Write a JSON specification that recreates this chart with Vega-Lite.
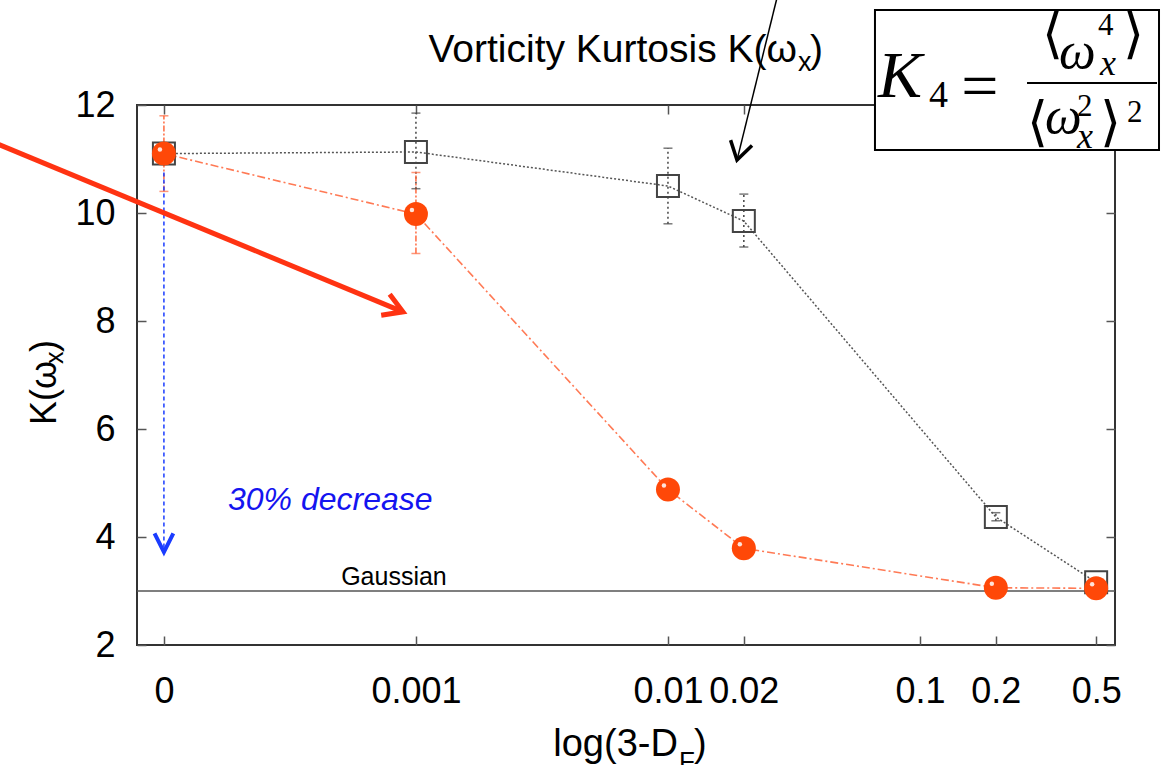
{
  "$schema": "https://vega.github.io/schema/vega-lite/v6.json",
  "width": 978,
  "height": 540,
  "autosize": {"type": "none"},
  "padding": {"left": 137, "top": 105, "right": 49, "bottom": 120},
  "background": "white",
  "datasets": {
    "kurtosis": [
      {"DF": 0.0001, "K": 11.1, "lo": 10.4, "hi": 11.8, "series": "circles"},
      {"DF": 0.001, "K": 9.98, "lo": 9.25, "hi": 10.75, "series": "circles"},
      {"DF": 0.01, "K": 4.88, "lo": 4.74, "hi": 5.04, "series": "circles"},
      {"DF": 0.02, "K": 3.79, "lo": 3.72, "hi": 3.86, "series": "circles"},
      {"DF": 0.2, "K": 3.06, "lo": 3.0, "hi": 3.12, "series": "circles"},
      {"DF": 0.5, "K": 3.05, "lo": 3.0, "hi": 3.1, "series": "circles"},
      {"DF": 0.0001, "K": 11.1, "lo": 10.9, "hi": 11.3, "series": "squares"},
      {"DF": 0.001, "K": 11.13, "lo": 10.45, "hi": 11.85, "series": "squares"},
      {"DF": 0.01, "K": 10.5, "lo": 9.8, "hi": 11.2, "series": "squares"},
      {"DF": 0.02, "K": 9.85, "lo": 9.37, "hi": 10.35, "series": "squares"},
      {"DF": 0.2, "K": 4.37, "lo": 4.3, "hi": 4.45, "series": "squares"},
      {"DF": 0.5, "K": 3.16, "lo": 3.1, "hi": 3.22, "series": "squares"}
    ],
    "arrows": [
      {"name": "pointer", "x": 0.0000213, "y": 11.3, "x2": 0.000888, "y2": 8.17},
      {"name": "black", "x": 0.02706, "y": 13.98, "x2": 0.01879, "y2": 10.98},
      {"name": "decrease", "x": 0.0001, "y": 10.75, "x2": 0.0001, "y2": 3.72}
    ],
    "notes": [
      {"part": "gaussian", "t": "Gaussian", "x": 0.000818, "y": 3.111},
      {"part": "decrease", "t": "30% decrease", "x": 0.0001795, "y": 4.5},
      {"part": "xtitle", "t": "log(3-D", "x": 0.01095, "y": -0.0556},
      {"part": "xsub", "t": "F", "x": 0.01106, "y": -0.315},
      {"part": "xclose", "t": ")", "x": 0.01269, "y": -0.0556},
      {"part": "title", "t": "Vorticity Kurtosis K(ω", "x": 0.03251, "y": 12.796},
      {"part": "titlesub", "t": "x", "x": 0.0328, "y": 12.63},
      {"part": "titleclose", "t": ")", "x": 0.0366, "y": 12.796},
      {"part": "ytitle", "t": "K(ω", "x": 0.00003727, "y": 6.074},
      {"part": "ysub", "t": "x", "x": 0.00003973, "y": 7.204},
      {"part": "yclose", "t": ")", "x": 0.00003727, "y": 7.426}
    ],
    "formula": [
      {"part": "box", "x": 0.06628, "x2": 0.888, "y": 13.759, "y2": 11.167},
      {"part": "bar", "x": 0.26589, "x2": 0.872, "y": 12.407, "y2": 12.407},
      {"part": "bigital", "t": "K", "x": 0.06813, "y": 12.148},
      {"part": "omega", "t": "ω", "x": 0.35625, "y": 12.685},
      {"part": "omega", "t": "ω", "x": 0.31333, "y": 11.481},
      {"part": "eq", "t": "=", "x": 0.17298, "y": 12.315},
      {"part": "bracket", "t": "⟨", "x": 0.30479, "y": 12.99},
      {"part": "bracket", "t": "⟩", "x": 0.63914, "y": 12.99},
      {"part": "bracket", "t": "⟨", "x": 0.26589, "y": 11.352},
      {"part": "bracket", "t": "⟩", "x": 0.51795, "y": 11.352},
      {"part": "sub4", "t": "4", "x": 0.10856, "y": 11.963},
      {"part": "sup", "t": "4", "x": 0.50847, "y": 13.296},
      {"part": "sup", "t": "2", "x": 0.41976, "y": 11.8},
      {"part": "sup", "t": "2", "x": 0.66302, "y": 11.685},
      {"part": "subx", "t": "x", "x": 0.51795, "y": 12.556},
      {"part": "subx", "t": "x", "x": 0.41976, "y": 11.2}
    ]
  },
  "resolve": {"axis": {"x": "independent", "y": "independent"}},
  "layer": [
    {
      "data": {"values": [{"label": "Gaussian", "K": 3}]},
      "mark": {"type": "rule", "color": "#555", "strokeWidth": 1.5},
      "encoding": {"y": {"field": "K", "type": "quantitative", "scale": {"domain": [2, 12], "nice": false, "zero": false}, "axis": null}}
    },
    {
      "data": {"name": "kurtosis"},
      "transform": [{"filter": "datum.series === 'squares'"}],
      "mark": {"type": "rule", "color": "#444", "strokeWidth": 1.5, "strokeDash": [2, 3]},
      "encoding": {
        "x": {"field": "DF", "type": "quantitative", "scale": {"type": "log", "domain": [0.0000782, 0.594], "nice": false}, "axis": null},
        "y": {"field": "lo", "type": "quantitative", "scale": {"domain": [2, 12], "nice": false, "zero": false}, "axis": null},
        "y2": {"field": "hi"}
      }
    },
    {
      "data": {"name": "kurtosis"},
      "transform": [{"filter": "datum.series === 'circles'"}],
      "mark": {"type": "rule", "color": "#ff6a40", "strokeWidth": 1.5, "strokeDash": [6, 2, 2, 2]},
      "encoding": {
        "x": {"field": "DF", "type": "quantitative", "axis": null},
        "y": {"field": "lo", "type": "quantitative", "axis": null},
        "y2": {"field": "hi"}
      }
    },
    {
      "data": {"name": "kurtosis"},
      "transform": [{"filter": "datum.series === 'squares'"}, {"fold": ["lo", "hi"], "as": ["end", "val"]}],
      "mark": {"type": "point", "shape": "stroke", "size": 81, "color": "#444", "strokeWidth": 1.5},
      "encoding": {
        "x": {"field": "DF", "type": "quantitative", "axis": null},
        "y": {"field": "val", "type": "quantitative", "axis": null}
      }
    },
    {
      "data": {"name": "kurtosis"},
      "transform": [{"filter": "datum.series === 'circles'"}, {"fold": ["lo", "hi"], "as": ["end", "val"]}],
      "mark": {"type": "point", "shape": "stroke", "size": 81, "color": "#ff6a40", "strokeWidth": 1.5},
      "encoding": {
        "x": {"field": "DF", "type": "quantitative", "axis": null},
        "y": {"field": "val", "type": "quantitative", "axis": null}
      }
    },
    {
      "data": {"name": "kurtosis"},
      "transform": [{"filter": "datum.series === 'squares'"}],
      "mark": {"type": "line", "color": "#555", "strokeWidth": 1.5, "strokeDash": [2, 2]},
      "encoding": {
        "x": {"field": "DF", "type": "quantitative", "scale": {"type": "log", "domain": [0.0000782, 0.594], "nice": false},
          "axis": {"orient": "bottom", "values": [0.0001, 0.001, 0.01, 0.02, 0.1, 0.2, 0.5], "labelExpr": "datum.value < 0.0005 ? '0' : format(datum.value, '~g')", "labelPadding": 38, "title": null}},
        "y": {"field": "K", "type": "quantitative", "scale": {"domain": [2, 12], "nice": false, "zero": false},
          "axis": {"orient": "left", "values": [2, 4, 6, 8, 10, 12], "labelPadding": 31, "title": null}}
      }
    },
    {
      "data": {"name": "kurtosis"},
      "transform": [{"filter": "datum.series === 'circles'"}],
      "mark": {"type": "line", "color": "#ff7a55", "strokeWidth": 1.6, "strokeDash": [8, 3, 2, 3]},
      "encoding": {
        "x": {"field": "DF", "type": "quantitative",
          "axis": {"orient": "top", "values": [0.0001, 0.001, 0.01, 0.02, 0.1, 0.2, 0.5], "labels": false, "title": null}},
        "y": {"field": "K", "type": "quantitative",
          "axis": {"orient": "right", "values": [2, 4, 6, 8, 10, 12], "labels": false, "title": null}}
      }
    },
    {
      "data": {"name": "arrows"},
      "transform": [{"filter": "datum.name === 'decrease'"}],
      "mark": {"type": "rule", "color": "#1a3cff", "strokeWidth": 1.5, "strokeDash": [4, 3]},
      "encoding": {
        "x": {"field": "x", "type": "quantitative", "axis": null},
        "y": {"field": "y", "type": "quantitative", "axis": null},
        "x2": {"field": "x2"},
        "y2": {"field": "y2"}
      }
    },
    {
      "data": {"name": "arrows"},
      "transform": [{"filter": "datum.name === 'decrease'"}],
      "mark": {"type": "point", "shape": "M-1,-0.5L0,0L-1,0.5", "size": 1413, "angle": 90, "filled": false, "color": "#1a3cff", "strokeWidth": 4, "opacity": 1},
      "encoding": {
        "x": {"field": "x2", "type": "quantitative", "axis": null},
        "y": {"field": "y2", "type": "quantitative", "axis": null}
      }
    },
    {
      "data": {"name": "kurtosis"},
      "transform": [{"filter": "datum.series === 'squares'"}],
      "mark": {"type": "point", "shape": "square", "size": 484, "filled": false, "color": "#444", "strokeWidth": 2, "opacity": 1},
      "encoding": {
        "x": {"field": "DF", "type": "quantitative", "axis": null},
        "y": {"field": "K", "type": "quantitative", "axis": null}
      }
    },
    {
      "data": {"name": "kurtosis"},
      "transform": [{"filter": "datum.series === 'circles'"}],
      "mark": {"type": "point", "shape": "circle", "size": 576, "filled": true, "color": "#ff4808", "opacity": 1},
      "encoding": {
        "x": {"field": "DF", "type": "quantitative", "axis": null},
        "y": {"field": "K", "type": "quantitative", "axis": null}
      }
    },
    {
      "data": {"name": "kurtosis"},
      "transform": [{"filter": "datum.series === 'circles'"}],
      "mark": {"type": "point", "shape": "circle", "size": 20, "filled": true, "color": "white", "opacity": 0.85, "xOffset": -4, "yOffset": -4},
      "encoding": {
        "x": {"field": "DF", "type": "quantitative", "axis": null},
        "y": {"field": "K", "type": "quantitative", "axis": null}
      }
    },
    {
      "data": {"name": "arrows"},
      "transform": [{"filter": "datum.name === 'pointer'"}],
      "mark": {"type": "rule", "color": "#ff3312", "strokeWidth": 5},
      "encoding": {
        "x": {"field": "x", "type": "quantitative", "axis": null},
        "y": {"field": "y", "type": "quantitative", "axis": null},
        "x2": {"field": "x2"},
        "y2": {"field": "y2"}
      }
    },
    {
      "data": {"name": "arrows"},
      "transform": [{"filter": "datum.name === 'pointer'"}],
      "mark": {"type": "point", "shape": "M-1,-0.6L0,0L-1,0.6", "size": 1424, "angle": 22, "filled": false, "color": "#ff3312", "strokeWidth": 5, "opacity": 1},
      "encoding": {
        "x": {"field": "x2", "type": "quantitative", "axis": null},
        "y": {"field": "y2", "type": "quantitative", "axis": null}
      }
    },
    {
      "data": {"name": "notes"},
      "transform": [{"filter": "datum.part === 'gaussian'"}],
      "mark": {"type": "text", "font": "Liberation Sans", "fontSize": 25, "color": "black", "align": "center", "baseline": "alphabetic"},
      "encoding": {
        "x": {"field": "x", "type": "quantitative", "axis": null},
        "y": {"field": "y", "type": "quantitative", "axis": null},
        "text": {"field": "t"}
      }
    },
    {
      "data": {"name": "notes"},
      "transform": [{"filter": "datum.part === 'decrease'"}],
      "mark": {"type": "text", "font": "Liberation Sans", "fontSize": 32, "fontStyle": "italic", "color": "#1414f0", "align": "left", "baseline": "alphabetic"},
      "encoding": {
        "x": {"field": "x", "type": "quantitative", "axis": null},
        "y": {"field": "y", "type": "quantitative", "axis": null},
        "text": {"field": "t"}
      }
    },
    {
      "data": {"name": "notes"},
      "transform": [{"filter": "datum.part === 'title'"}],
      "mark": {"type": "text", "font": "Liberation Sans", "fontSize": 39, "color": "black", "align": "right", "baseline": "alphabetic"},
      "encoding": {
        "x": {"field": "x", "type": "quantitative", "axis": null},
        "y": {"field": "y", "type": "quantitative", "axis": null},
        "text": {"field": "t"}
      }
    },
    {
      "data": {"name": "notes"},
      "transform": [{"filter": "datum.part === 'titlesub'"}],
      "mark": {"type": "text", "font": "Liberation Sans", "fontSize": 27, "color": "black", "align": "left", "baseline": "alphabetic"},
      "encoding": {
        "x": {"field": "x", "type": "quantitative", "axis": null},
        "y": {"field": "y", "type": "quantitative", "axis": null},
        "text": {"field": "t"}
      }
    },
    {
      "data": {"name": "notes"},
      "transform": [{"filter": "datum.part === 'titleclose'"}],
      "mark": {"type": "text", "font": "Liberation Sans", "fontSize": 39, "color": "black", "align": "left", "baseline": "alphabetic"},
      "encoding": {
        "x": {"field": "x", "type": "quantitative", "axis": null},
        "y": {"field": "y", "type": "quantitative", "axis": null},
        "text": {"field": "t"}
      }
    },
    {
      "data": {"name": "notes"},
      "transform": [{"filter": "datum.part === 'ytitle' || datum.part === 'yclose'"}],
      "mark": {"type": "text", "font": "Liberation Sans", "fontSize": 36, "color": "black", "align": "left", "baseline": "alphabetic", "angle": 270},
      "encoding": {
        "x": {"field": "x", "type": "quantitative", "axis": null},
        "y": {"field": "y", "type": "quantitative", "axis": null},
        "text": {"field": "t"}
      }
    },
    {
      "data": {"name": "notes"},
      "transform": [{"filter": "datum.part === 'ysub'"}],
      "mark": {"type": "text", "font": "Liberation Sans", "fontSize": 25, "color": "black", "align": "left", "baseline": "alphabetic", "angle": 270},
      "encoding": {
        "x": {"field": "x", "type": "quantitative", "axis": null},
        "y": {"field": "y", "type": "quantitative", "axis": null},
        "text": {"field": "t"}
      }
    },
    {
      "data": {"name": "arrows"},
      "transform": [{"filter": "datum.name === 'black'"}],
      "mark": {"type": "rule", "color": "black", "strokeWidth": 1.5},
      "encoding": {
        "x": {"field": "x", "type": "quantitative", "axis": null},
        "y": {"field": "y", "type": "quantitative", "axis": null},
        "x2": {"field": "x2"},
        "y2": {"field": "y2"}
      }
    },
    {
      "data": {"name": "arrows"},
      "transform": [{"filter": "datum.name === 'black'"}],
      "mark": {"type": "point", "shape": "M-1,-0.62L0,0L-1,0.62", "size": 1270, "angle": 104, "filled": false, "color": "black", "strokeWidth": 3.5, "opacity": 1},
      "encoding": {
        "x": {"field": "x2", "type": "quantitative", "axis": null},
        "y": {"field": "y2", "type": "quantitative", "axis": null}
      }
    },
    {
      "data": {"name": "formula"},
      "transform": [{"filter": "datum.part === 'box'"}],
      "mark": {"type": "rect", "fill": "white", "stroke": "black", "strokeWidth": 2},
      "encoding": {
        "x": {"field": "x", "type": "quantitative", "axis": null},
        "y": {"field": "y", "type": "quantitative", "axis": null},
        "x2": {"field": "x2"},
        "y2": {"field": "y2"}
      }
    },
    {
      "data": {"name": "formula"},
      "transform": [{"filter": "datum.part === 'bar'"}],
      "mark": {"type": "rule", "color": "black", "strokeWidth": 2},
      "encoding": {
        "x": {"field": "x", "type": "quantitative", "axis": null},
        "y": {"field": "y", "type": "quantitative", "axis": null},
        "x2": {"field": "x2"}
      }
    },
    {
      "data": {"name": "formula"},
      "transform": [{"filter": "datum.part === 'bigital'"}],
      "mark": {"type": "text", "font": "Liberation Serif", "fontSize": 66, "fontStyle": "italic", "color": "black", "align": "left", "baseline": "alphabetic"},
      "encoding": {
        "x": {"field": "x", "type": "quantitative", "axis": null},
        "y": {"field": "y", "type": "quantitative", "axis": null},
        "text": {"field": "t"}
      }
    },
    {
      "data": {"name": "formula"},
      "transform": [{"filter": "datum.part === 'omega'"}],
      "mark": {"type": "text", "font": "Liberation Serif", "fontSize": 52, "fontStyle": "italic", "color": "black", "align": "left", "baseline": "alphabetic"},
      "encoding": {
        "x": {"field": "x", "type": "quantitative", "axis": null},
        "y": {"field": "y", "type": "quantitative", "axis": null},
        "text": {"field": "t"}
      }
    },
    {
      "data": {"name": "formula"},
      "transform": [{"filter": "datum.part === 'eq'"}],
      "mark": {"type": "text", "font": "Liberation Serif", "fontSize": 66, "color": "black", "align": "center", "baseline": "middle"},
      "encoding": {
        "x": {"field": "x", "type": "quantitative", "axis": null},
        "y": {"field": "y", "type": "quantitative", "axis": null},
        "text": {"field": "t"}
      }
    },
    {
      "data": {"name": "formula"},
      "transform": [{"filter": "datum.part === 'bracket'"}],
      "mark": {"type": "text", "font": "DejaVu Serif", "fontSize": 54, "color": "black", "align": "left", "baseline": "alphabetic"},
      "encoding": {
        "x": {"field": "x", "type": "quantitative", "axis": null},
        "y": {"field": "y", "type": "quantitative", "axis": null},
        "text": {"field": "t"}
      }
    },
    {
      "data": {"name": "formula"},
      "transform": [{"filter": "datum.part === 'sub4'"}],
      "mark": {"type": "text", "font": "Liberation Serif", "fontSize": 38, "color": "black", "align": "left", "baseline": "alphabetic"},
      "encoding": {
        "x": {"field": "x", "type": "quantitative", "axis": null},
        "y": {"field": "y", "type": "quantitative", "axis": null},
        "text": {"field": "t"}
      }
    },
    {
      "data": {"name": "formula"},
      "transform": [{"filter": "datum.part === 'sup'"}],
      "mark": {"type": "text", "font": "Liberation Serif", "fontSize": 31, "color": "black", "align": "left", "baseline": "alphabetic"},
      "encoding": {
        "x": {"field": "x", "type": "quantitative", "axis": null},
        "y": {"field": "y", "type": "quantitative", "axis": null},
        "text": {"field": "t"}
      }
    },
    {
      "data": {"name": "formula"},
      "transform": [{"filter": "datum.part === 'subx'"}],
      "mark": {"type": "text", "font": "Liberation Serif", "fontSize": 36, "fontStyle": "italic", "color": "black", "align": "left", "baseline": "alphabetic"},
      "encoding": {
        "x": {"field": "x", "type": "quantitative", "axis": null},
        "y": {"field": "y", "type": "quantitative", "axis": null},
        "text": {"field": "t"}
      }
    },
    {
      "data": {"name": "notes"},
      "transform": [{"filter": "datum.part === 'xtitle'"}],
      "mark": {"type": "text", "font": "Liberation Sans", "fontSize": 38, "color": "black", "align": "right", "baseline": "alphabetic"},
      "encoding": {
        "x": {"field": "x", "type": "quantitative", "axis": null},
        "y": {"field": "y", "type": "quantitative", "axis": null},
        "text": {"field": "t"}
      }
    },
    {
      "data": {"name": "notes"},
      "transform": [{"filter": "datum.part === 'xsub'"}],
      "mark": {"type": "text", "font": "Liberation Sans", "fontSize": 26, "color": "black", "align": "left", "baseline": "alphabetic"},
      "encoding": {
        "x": {"field": "x", "type": "quantitative", "axis": null},
        "y": {"field": "y", "type": "quantitative", "axis": null},
        "text": {"field": "t"}
      }
    },
    {
      "data": {"name": "notes"},
      "transform": [{"filter": "datum.part === 'xclose'"}],
      "mark": {"type": "text", "font": "Liberation Sans", "fontSize": 38, "color": "black", "align": "left", "baseline": "alphabetic"},
      "encoding": {
        "x": {"field": "x", "type": "quantitative", "axis": null},
        "y": {"field": "y", "type": "quantitative", "axis": null},
        "text": {"field": "t"}
      }
    }
  ],
  "config": {
    "font": "Liberation Sans",
    "view": {"stroke": "#333", "strokeWidth": 2},
    "axis": {
      "domain": false,
      "grid": false,
      "tickColor": "#555",
      "tickWidth": 1.5,
      "tickSize": -9,
      "labelFont": "Liberation Sans",
      "labelFontSize": 36,
      "labelColor": "black",
      "labelOverlap": false,
      "labelFlush": false,
      "labelBound": false,
      "titleFont": "Liberation Sans",
      "titleFontSize": 36,
      "titleFontWeight": "normal",
      "titleColor": "black"
    }
  }
}
